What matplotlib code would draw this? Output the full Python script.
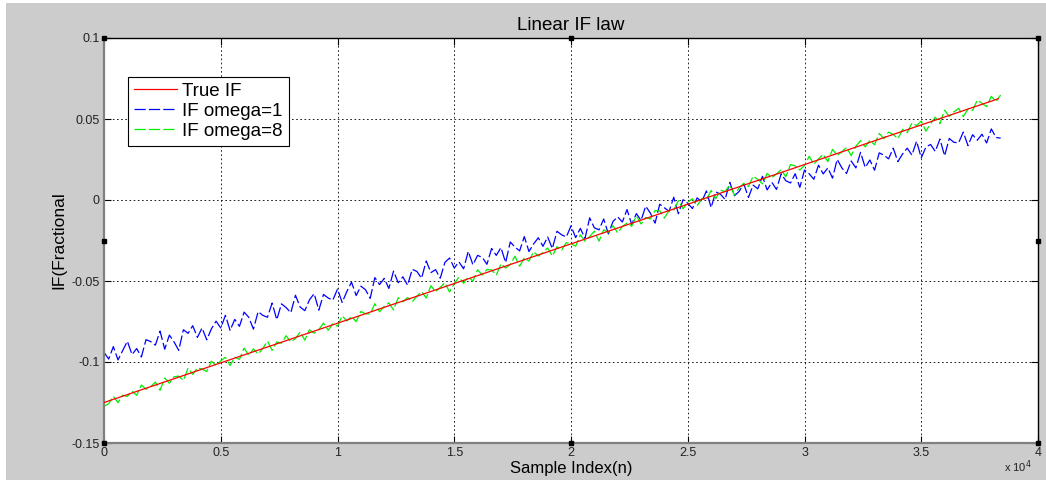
import numpy as np
import matplotlib.pyplot as plt
from matplotlib.patches import Rectangle

# -----------------------------------
# Data (values in IF units)
# -----------------------------------

# sample index grid, one value every 200 samples
n = np.arange(0, 38401, 200)

true_n = [0, 38300]
true_if = [-0.125, 0.0625]

# IF estimate with omega = 1 (x 1e-3)
if_omega1 = [
    -94.0, -98.2, -90.5, -98.7, -93.0, -87.2, -95.4, -91.7, -96.9, -86.2,
    -87.4, -89.6, -80.9, -92.1, -83.4, -87.6, -92.8, -80.1, -82.3, -77.6,
    -84.8, -79.0, -86.3, -79.5, -74.8, -79.0, -71.2, -80.5, -73.7, -78.0,
    -69.2, -72.4, -79.7, -68.9, -71.2, -72.4, -63.6, -73.9, -64.1, -66.4,
    -69.6, -58.8, -66.1, -68.3, -61.6, -57.8, -68.0, -58.3, -60.5, -61.8,
    -55.0, -63.2, -56.5, -50.7, -59.0, -53.2, -55.4, -60.7, -47.9, -52.2,
    -48.4, -54.6, -43.9, -51.1, -47.4, -52.6, -42.8, -44.1, -48.3, -37.6,
    -44.8, -43.0, -48.3, -38.5, -35.8, -42.0, -38.2, -42.5, -31.7, -40.0,
    -34.2, -35.4, -39.7, -29.9, -34.2, -29.4, -38.6, -25.9, -29.1, -31.4,
    -22.6, -31.8, -27.1, -23.3, -28.6, -22.8, -30.0, -19.3, -21.5, -22.8,
    -16.0, -23.2, -17.5, -23.7, -11.0, -17.2, -18.4, -11.7, -20.9, -13.2,
    -10.4, -13.6, -5.9, -15.1, -8.4, -12.6, -3.8, -8.1, -14.3, -2.6,
    -4.8, -7.0, 1.7, -8.5, 0.2, -2.0, -5.3, 1.3, -1.0, 5.6,
    -4.7, 5.0, 3.6, 0.3, 10.9, 2.6, 5.3, 9.9, 1.6, 9.2,
    6.9, 14.6, 6.2, 10.9, 6.5, 16.2, 11.9, 10.5, 16.2, 7.8,
    18.5, 16.2, 12.8, 21.5, 16.1, 19.8, 13.5, 25.1, 19.8, 16.4,
    24.1, 19.8, 29.4, 20.1, 24.7, 18.4, 29.1, 27.7, 25.4, 32.0,
    23.7, 28.4, 32.0, 27.7, 36.3, 26.0, 32.7, 34.3, 30.0, 37.6,
    27.3, 38.0, 35.6, 35.3, 41.9, 33.6, 40.3, 36.9, 40.6, 35.2,
    43.9, 38.6, 38.2,
]

# IF estimate with omega = 8 (x 1e-3)
if_omega8 = [
    -127.4, -125.8, -121.2, -125.1, -120.5, -121.3, -117.9, -120.6, -114.2, -116.8,
    -115.2, -112.4, -117.5, -109.9, -113.1, -109.1, -108.7, -111.4, -103.8, -107.6,
    -103.6, -104.4, -105.9, -99.5, -102.1, -99.3, -97.1, -102.2, -97.0, -98.4,
    -91.4, -95.9, -91.9, -95.1, -91.7, -87.1, -92.8, -87.6, -88.4, -83.8,
    -87.6, -85.5, -81.5, -86.5, -80.1, -82.2, -80.0, -76.0, -80.4, -76.4,
    -77.9, -71.5, -74.7, -71.9, -75.1, -68.8, -70.2, -70.4, -64.0, -69.0,
    -65.7, -63.5, -67.9, -60.3, -62.9, -60.2, -62.8, -59.4, -56.6, -60.5,
    -52.9, -56.7, -53.9, -51.1, -56.8, -51.6, -47.6, -51.4, -47.4, -50.1,
    -43.1, -46.3, -42.9, -43.1, -46.4, -39.4, -42.0, -39.8, -34.7, -40.9,
    -35.7, -37.7, -31.9, -34.6, -32.4, -29.6, -34.6, -28.8, -30.9, -26.3,
    -27.1, -28.5, -21.5, -25.4, -22.6, -19.2, -25.4, -18.4, -19.9, -15.9,
    -20.3, -16.3, -14.2, -16.2, -9.8, -14.8, -10.8, -11.7, -6.5, -6.7,
    -11.1, -6.5, -6.2, -0.4, -5.4, -1.4, 0.8, -3.7, 0.9, 0.1,
    5.9, 0.8, 6.0, 5.2, 9.2, 3.0, 7.5, 10.3, 8.3, 14.7,
    12.7, 10.0, 16.4, 13.8, 16.0, 18.8, 14.3, 21.9, 21.1, 18.5,
    21.3, 27.0, 22.0, 25.4, 28.2, 23.7, 31.3, 27.5, 29.7, 32.5,
    27.4, 33.2, 36.6, 32.8, 36.8, 34.1, 41.1, 37.9, 41.9, 40.5,
    37.8, 43.6, 41.6, 47.4, 46.0, 48.7, 42.5, 47.1, 51.1, 47.2,
    55.4, 51.6, 54.4, 56.6, 51.5, 56.1, 55.3, 61.7, 59.7, 57.6,
    64.0, 60.8, 64.8,
]

xticks = np.arange(0, 40001, 5000)
xtick_labels = ["0", "0.5", "1", "1.5", "2", "2.5", "3", "3.5", "4"]
yticks = [-0.15, -0.1, -0.05, 0, 0.05, 0.1]
ytick_labels = ["-0.15", "-0.1", "-0.05", "0", "0.05", "0.1"]

# -----------------------------------
# Plot
# -----------------------------------

plt.rcParams["font.family"] = ["Liberation Sans", "DejaVu Sans"]

fig = plt.figure(figsize=(10.46, 4.82), dpi=100, facecolor="white")
# MATLAB-like grey figure area with a thin white border
fig.patches.append(Rectangle((6 / 1046, 2 / 482), 1040 / 1046, 477 / 482,
                             transform=fig.transFigure, facecolor="#cccccc",
                             edgecolor="none", zorder=-10))

ax = fig.add_axes([104 / 1046, 39 / 482, 934 / 1046, 405 / 482])
ax.set_facecolor("white")

ax.plot(true_n, true_if, color="#ff0000", lw=0.9, label="True IF", zorder=3)
ax.plot(n, np.array(if_omega1) / 1000, color="#0000ff", lw=0.9,
        dashes=(9, 2.5), label="IF omega=1", zorder=2)
ax.plot(n, np.array(if_omega8) / 1000, color="#00ee00", lw=0.9,
        dashes=(9, 2.5), label="IF omega=8", zorder=2)

ax.set_xlim(0, 40000)
ax.set_ylim(-0.15, 0.1)
ax.set_xticks(xticks)
ax.set_xticklabels(xtick_labels)
ax.set_yticks(yticks)
ax.set_yticklabels(ytick_labels)
ax.tick_params(direction="in", length=5, labelsize=9, labelcolor="#222222",
               top=True, right=True, pad=3)

ax.grid(True, color="black", linestyle=(0, (2, 3)), lw=0.6)

for side in ["left", "bottom"]:
    ax.spines[side].set_color("#808080")
    ax.spines[side].set_linewidth(1.6)
for side in ["top", "right"]:
    ax.spines[side].set_color("black")
    ax.spines[side].set_linewidth(1.0)

# edit-mode selection handles of the axes
hx = [0, 0.5, 1, 0, 1, 0, 0.5, 1]
hy = [1, 1, 1, 0.5, 0.5, 0, 0, 0]
ax.plot(hx, hy, "s", color="black", ms=3.5, transform=ax.transAxes,
        clip_on=False, zorder=10)

ax.set_title("Linear IF law", fontsize=13.5, pad=6)
ax.set_xlabel("Sample Index(n)", fontsize=12, labelpad=1)
ax.set_ylabel("IF(Fractional", fontsize=12.5, labelpad=4)
fig.text(1032 / 1046, 1 - 472 / 482, r"x 10$^{4}$", fontsize=8,
         ha="right", va="baseline", color="#222222")

leg = ax.legend(loc="upper left", bbox_to_anchor=(0.0257, 0.903),
                fontsize=13.5, fancybox=False, shadow=False, framealpha=1,
                edgecolor="black", handlelength=2.3, borderpad=0.3,
                labelspacing=0.15, handletextpad=0.3, borderaxespad=0)
leg.get_frame().set_linewidth(0.8)

fig.savefig("out.png", dpi=100, facecolor=fig.get_facecolor())
